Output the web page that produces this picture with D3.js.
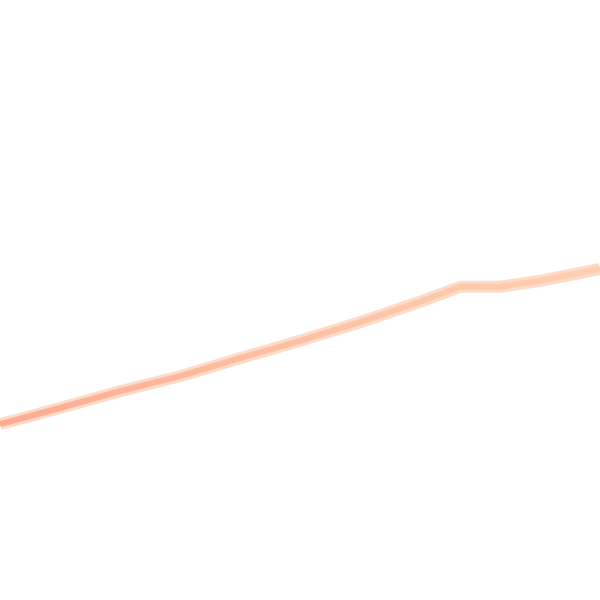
<!DOCTYPE html>
<html>
<head>
<meta charset="utf-8">
<script src="https://d3js.org/d3.v7.min.js"></script>
<style>
  body { margin: 0; background: #fff; }
</style>
</head>
<body>
<script>
  // values (x in percent of width, y in arbitrary units)
  var xs = [0, 10, 20, 30, 40, 50, 60, 70, 76.7, 83.3, 90, 96.7, 100];
  var ys = [29.3, 32.0, 34.8, 37.3, 40.3, 43.2, 46.3, 49.7, 52.2, 52.2, 53.2, 54.5, 55.2];

  var width = 600, height = 600;

  var svg = d3.select("body")
    .append("svg")
      .attr("width", width)
      .attr("height", height);

  var x = d3.scaleLinear().domain([0, 100]).range([0, width]);
  var y = d3.scaleLinear().domain([0, 100]).range([height, 0]);

  /* stroke fades from salmon on the left to peach on the right */
  var grad = svg.append("defs").append("linearGradient")
      .attr("id", "fade")
      .attr("gradientUnits", "userSpaceOnUse")
      .attr("x1", 0).attr("y1", 0)
      .attr("x2", width).attr("y2", 0);
  grad.append("stop").attr("offset", "0%").attr("stop-color", "#fcab93");
  grad.append("stop").attr("offset", "55%").attr("stop-color", "#fdc3a6");
  grad.append("stop").attr("offset", "100%").attr("stop-color", "#fdcfb0");

  var pts = xs.map(function(d, i) { return [d, ys[i]]; });

  var line = d3.line()
      .x(function(d) { return x(d[0]); })
      .y(function(d) { return y(d[1]); });

  // soft halo, then the core line
  svg.append("path")
      .datum(pts)
      .attr("fill", "none")
      .attr("stroke", "#fddbc6")
      .attr("stroke-width", 12)
      .attr("stroke-linejoin", "round")
      .attr("d", line);

  svg.append("path")
      .datum(pts)
      .attr("fill", "none")
      .attr("stroke", "url(#fade)")
      .attr("stroke-width", 6)
      .attr("stroke-linejoin", "round")
      .attr("d", line);
</script>
</body>
</html>
